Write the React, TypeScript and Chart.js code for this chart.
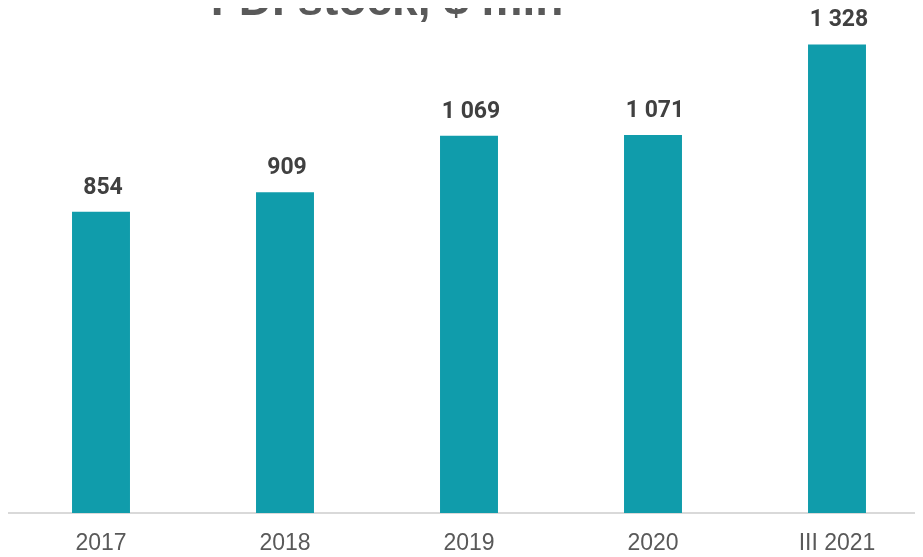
import React, { useEffect, useRef } from "react";
import { Chart, registerables } from "chart.js";

Chart.register(...registerables);

const categories = ["2017", "2018", "2019", "2020", "III 2021"];
const fdiStock = [854, 909, 1069, 1071, 1328];
const titleText = "FDI stock, $ mln";

const fmt = (v: number) => {
  const s = String(Math.round(v));
  return s.replace(/\B(?=(\d{3})+(?!\d))/g, " ");
};

const labelPlugin = {
  id: "barLabels",
  afterDatasetsDraw(chart: any) {
    const ctx = chart.ctx;
    const meta = chart.getDatasetMeta(0);
    ctx.save();
    ctx.font = "bold 23px Roboto";
    ctx.fillStyle = "#404040";
    ctx.textAlign = "center";
    ctx.textBaseline = "alphabetic";
    meta.data.forEach((bar: any, i: number) => {
      ctx.fillText(fmt(fdiStock[i]), bar.x + 2, bar.y - 18);
    });
    ctx.restore();
  },
};

const titlePlugin = {
  id: "topTitle",
  afterDraw(chart: any) {
    const ctx = chart.ctx;
    ctx.save();
    ctx.font = "bold 46px 'Liberation Sans'";
    ctx.fillStyle = "#595959";
    ctx.textAlign = "center";
    ctx.textBaseline = "alphabetic";
    ctx.fillText(titleText, 379, 7);
    ctx.restore();
  },
};

export default function App() {
  const ref = useRef<HTMLCanvasElement>(null);
  useEffect(() => {
    document.documentElement.style.overflow = "hidden";
    let chart: Chart | null = null;
    let cancelled = false;
    const make = () => {
      if (cancelled || !ref.current) return;
      chart = new Chart(ref.current, {
        type: "bar",
        data: {
          labels: categories,
          datasets: [
            {
              data: fdiStock,
              backgroundColor: "#109CAB",
              barPercentage: 0.315,
              categoryPercentage: 1,
            },
          ],
        },
        options: {
          responsive: false,
          animation: false,
          layout: { padding: { top: 11, left: 1, right: 0, bottom: 0 } },
          plugins: {
            legend: { display: false },
            tooltip: { enabled: false },
            title: { display: false },
          },
          scales: {
            x: {
              grid: { display: false, drawTicks: false },
              border: { display: true, color: "#d9d9d9", width: 2 },
              ticks: {
                color: "#595959",
                font: { family: "'Liberation Sans'", size: 23 },
                padding: 17,
                maxRotation: 0,
                autoSkip: false,
              },
              afterFit(scale: any) {
                scale.height = 44;
              },
            },
            y: {
              display: false,
              min: 0,
              max: 1400,
            },
          },
        },
        plugins: [labelPlugin, titlePlugin],
      });
    };
    const fonts = (document as any).fonts;
    if (fonts && fonts.load) {
      Promise.all([
        fonts.load("bold 46px 'Liberation Sans'"),
        fonts.load("23px 'Liberation Sans'"),
        fonts.load("bold 23px Roboto"),
      ])
        .catch(() => {})
        .then(make);
    } else {
      make();
    }
    return () => {
      cancelled = true;
      if (chart) chart.destroy();
    };
  }, []);
  return (
    <div style={{ width: 921, height: 549 }}>
      <canvas ref={ref} width={921} height={549} style={{ display: "block" }} />
    </div>
  );
}
